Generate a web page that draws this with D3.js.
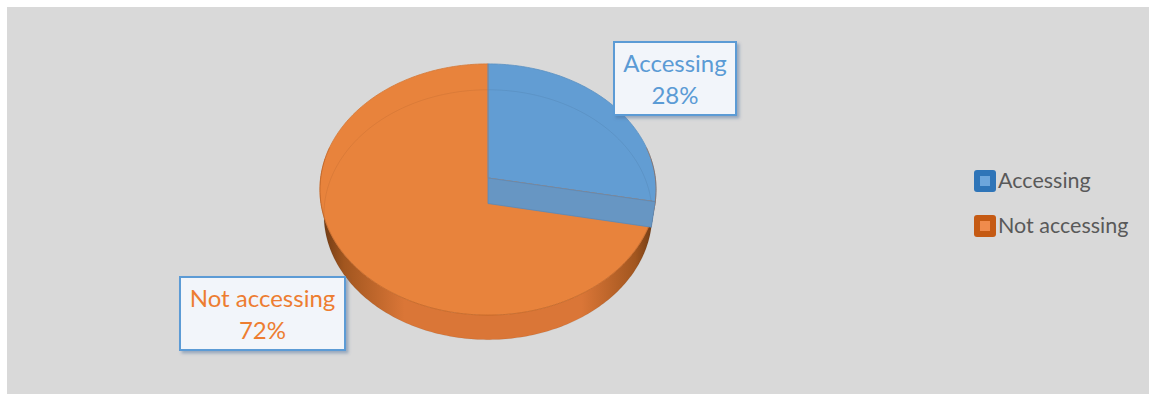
<!DOCTYPE html>
<html>
<head>
<meta charset="utf-8">
<script src="https://cdn.jsdelivr.net/npm/d3@7"></script>
<style>
  html, body { margin: 0; padding: 0; background: #ffffff; }
  svg { display: block; }
  text { font-family: Lato, "Open Sans", sans-serif; }
</style>
</head>
<body>
<svg id="chart" width="1149" height="394"></svg>
<script>
// Share of respondents by access status
const categories = ["Accessing", "Not accessing"];
const values = [28, 72];

// Slice palette: top face, radial cut face, legend border, legend fill
const topColors    = ["#629dd3", "#e8833c"];
const legendEdge   = ["#2f75b8", "#c55a13"];
const legendFill   = ["#6da6dc", "#f08b4c"];
const labelColors  = ["#5b9bd5", "#ed7d31"];

const svg = d3.select("#chart");
const W = 1149, H = 394;

// chart area background
svg.append("rect").attr("x", 7).attr("y", 7).attr("width", W - 7).attr("height", H - 7)
  .attr("fill", "#d9d9d9");

// ---- 3D pie projection (unit-radius disc viewed in perspective) ----
const view = {
  cx: 488, cy: 178,          // screen position of the disc centre (top face)
  focal: 1220, dist: 7.29,   // perspective camera
  elev: 48.1 * Math.PI / 180,// viewing elevation
  depth: 0.234               // thickness of the pie
};
const sinE = Math.sin(view.elev), cosE = Math.cos(view.elev);

// angle measured clockwise from the far side (12 o'clock), y = height (0 top, -depth bottom)
function project(theta, y, r = 1) {
  const X = r * Math.sin(theta), Z = r * Math.cos(theta);
  const yc = y * cosE + Z * sinE;
  const d = view.dist - y * sinE + Z * cosE;
  return [view.cx + view.focal * X / d, view.cy - view.focal * yc / d];
}
function arcPoints(a0, a1, y) {
  const n = Math.max(2, Math.ceil(Math.abs(a1 - a0) / (Math.PI / 180)));
  return d3.range(n + 1).map(i => project(a0 + (a1 - a0) * i / n, y));
}
const line = d3.line();

const pie = d3.pie().sort(null).value(d => d)(values);
const defs = svg.append("defs");

// side wall gradients (darker towards the silhouette edges)
const xLeft = project(-Math.PI / 2, 0)[0], xRight = project(Math.PI / 2, 0)[0];
function wallGradient(id, dark, mid, light) {
  const g = defs.append("linearGradient").attr("id", id)
    .attr("gradientUnits", "userSpaceOnUse")
    .attr("x1", xLeft).attr("x2", xRight).attr("y1", 0).attr("y2", 0);
  [[0, dark], [0.07, mid], [0.25, light], [0.5, light], [0.78, light], [0.94, mid], [1, dark]]
    .forEach(([o, c]) => g.append("stop").attr("offset", o).attr("stop-color", c));
}
wallGradient("wall0", "#2d4f73", "#44719c", "#5284b5");
wallGradient("wall1", "#6a3814", "#a2561f", "#da7637");

// label box shadow
const f = defs.append("filter").attr("id", "shadow")
  .attr("x", "-20%").attr("y", "-20%").attr("width", "140%").attr("height", "140%");
f.append("feDropShadow").attr("dx", 2.5).attr("dy", 2.5).attr("stdDeviation", 1.8)
  .attr("flood-color", "#4a6f99").attr("flood-opacity", 0.45);

const pieG = svg.append("g");

// outer walls, front portion only (back portions sit behind the top faces)
pie.forEach((s, i) => {
  const a0 = Math.max(s.startAngle, Math.PI * 0.45);
  const a1 = Math.min(s.endAngle, Math.PI * 1.55);
  if (a1 <= a0) return;
  const pts = arcPoints(a0, a1, 0).concat(arcPoints(a1, a0, -view.depth));
  pieG.append("path").attr("d", line(pts) + "Z").attr("fill", `url(#wall${i})`);
});

// top faces
pie.forEach((s, i) => {
  const c = project(0, 0, 0);
  const pts = [c].concat(arcPoints(s.startAngle, s.endAngle, 0));
  pieG.append("path").attr("d", line(pts) + "Z")
    .attr("fill", topColors[i])
    .attr("stroke", d3.color(topColors[i]).darker(0.25))
    .attr("stroke-width", 0.8);
});

// faint outline of the bottom rim showing through the top
pieG.append("path")
  .attr("d", line(arcPoints(0, 2 * Math.PI, -view.depth)) + "Z")
  .attr("fill", "none").attr("stroke", "#000").attr("stroke-opacity", 0.06).attr("stroke-width", 1);
pieG.append("path")
  .attr("d", line(arcPoints(Math.PI * 0.42, Math.PI * 1.58, 0)))
  .attr("fill", "none").attr("stroke", "#b85a1c").attr("stroke-opacity", 0.45).attr("stroke-width", 1);

// radial cut face at the end of the first slice
{
  const s = pie[0];
  const pts = [project(0, 0, 0), project(s.endAngle, 0), project(s.endAngle, -view.depth), project(0, -view.depth, 0)];
  pieG.append("path").attr("d", line(pts) + "Z")
    .attr("fill", "#6796c3").attr("stroke", "#5a89b8").attr("stroke-width", 0.8);
  // radial edge on the top face
  pieG.append("path").attr("d", line([project(0, 0, 0), project(0, 0, 1)]))
    .attr("stroke", "#5a8fc4").attr("stroke-width", 1);
}

// ---- data labels ----
const labelBoxes = [
  { x: 614, y: 42, w: 122, h: 73 },
  { x: 180, y: 277, w: 165, h: 73 }
];
pie.forEach((s, i) => {
  const b = labelBoxes[i];
  const g = svg.append("g");
  g.append("rect").attr("x", b.x).attr("y", b.y).attr("width", b.w).attr("height", b.h)
    .attr("fill", "#f2f5fa").attr("stroke", "#5b9bd5").attr("stroke-width", 2)
    .attr("filter", "url(#shadow)");
  const pct = Math.round(100 * (s.endAngle - s.startAngle) / (2 * Math.PI)) + "%";
  g.append("text").attr("x", b.x + b.w / 2).attr("y", b.y + 30)
    .attr("text-anchor", "middle").attr("font-size", 24).attr("fill", labelColors[i])
    .text(categories[i]);
  g.append("text").attr("x", b.x + b.w / 2).attr("y", b.y + 62)
    .attr("text-anchor", "middle").attr("font-size", 24).attr("fill", labelColors[i])
    .text(pct);
});

// ---- legend ----
const legend = svg.append("g").attr("transform", "translate(974,170)");
categories.forEach((c, i) => {
  const g = legend.append("g").attr("transform", `translate(0,${i * 45})`);
  g.append("rect").attr("width", 22).attr("height", 22).attr("rx", 3)
    .attr("fill", legendEdge[i]);
  g.append("rect").attr("x", 6).attr("y", 6).attr("width", 10).attr("height", 10)
    .attr("fill", legendFill[i]);
  g.append("text").attr("x", 24).attr("y", 18).attr("font-size", 21.5)
    .attr("fill", "#595959").text(c);
});
</script>
</body>
</html>
